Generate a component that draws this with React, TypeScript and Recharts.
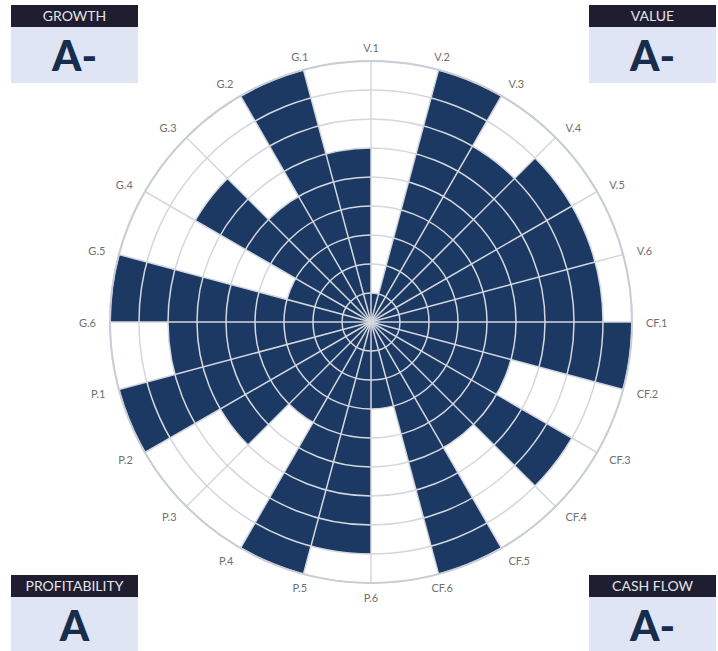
import { PolarAngleAxis, PolarGrid, PolarRadiusAxis, RadialBar, RadialBarChart } from 'recharts';

// clockwise from 12 o'clock, each label marks the start of its band
const categories = [
  'V.1', 'V.2', 'V.3', 'V.4', 'V.5', 'V.6',
  'CF.1', 'CF.2', 'CF.3', 'CF.4', 'CF.5', 'CF.6',
  'P.6', 'P.5', 'P.4', 'P.3', 'P.2', 'P.1',
  'G.6', 'G.5', 'G.4', 'G.3', 'G.2', 'G.1',
];
const scores = [1, 9, 7, 8, 8, 8, 9, 5, 8, 5, 9, 3, 8, 9, 4, 6, 9, 7, 9, 3, 7, 5, 9, 6];
const scoreTicks = [0, 1, 2, 3, 4, 5, 6, 7, 8, 9];

const gradeTitles = ['GROWTH', 'VALUE', 'PROFITABILITY', 'CASH FLOW'];
const gradeLetters = ['A-', 'A-', 'A', 'A-'];

const data = categories.map((name, i) => ({ name, score: scores[i] }));

const CX = 371;
const CY = 322;
const OUTER_R = 261;
const LABEL_R = 275;
const BAND = 360 / categories.length;
const spokeAngles = categories.map((_, i) => 90 - i * BAND);

const BAR_COLOR = '#1c3963';
const GRID_COLOR = '#d3d7de';

// recharts puts each bar one band counter-clockwise of its tick, so the axis is
// rotated by one band and the label goes back to the bar's clockwise start
function AngleTick(props: any) {
  const { payload, index } = props;
  const coord = typeof payload?.coordinate === 'number' ? payload.coordinate : 90 - BAND - index * BAND;
  const angle = coord + BAND;
  const rad = (angle * Math.PI) / 180;
  const x = CX + LABEL_R * Math.cos(rad);
  const y = CY - LABEL_R * Math.sin(rad);
  const c = Math.cos(rad);
  const anchor = Math.abs(c) < 0.4 ? 'middle' : c > 0 ? 'start' : 'end';
  return (
    <text x={x} y={y} textAnchor={anchor} dominantBaseline="central" fill="#707070" fontSize={11} fontFamily="Lato">
      {payload.value}
    </text>
  );
}

function GradeBox({ title, grade, left, top }: { title: string; grade: string; left: number; top: number }) {
  return (
    <div style={{ position: 'absolute', left, top, width: 127, fontFamily: 'Lato' }}>
      <div
        style={{
          background: '#1e1e30',
          color: '#e4e4ea',
          height: 22,
          lineHeight: '22px',
          textAlign: 'center',
          fontSize: 14,
        }}
      >
        {title}
      </div>
      <div
        style={{
          background: '#dfe5f5',
          color: '#182c4c',
          height: 56,
          lineHeight: '56px',
          textAlign: 'center',
          fontSize: 42,
          fontWeight: 900,
        }}
      >
        {grade}
      </div>
    </div>
  );
}

export default function App() {
  return (
    <div style={{ position: 'absolute', left: 0, top: 0, width: 718, height: 651, background: '#fff', overflow: 'hidden' }}>
      <RadialBarChart
        width={718}
        height={651}
        data={data}
        cx={CX}
        cy={CY}
        innerRadius={0}
        outerRadius={OUTER_R}
        startAngle={90 - BAND}
        endAngle={-270 - BAND}
        layout="centric"
        barCategoryGap={0}
        barGap={0}
        margin={{ top: 0, right: 0, bottom: 0, left: 0 }}
      >
        <PolarAngleAxis type="category" dataKey="name" axisLine={false} tickLine={false} tick={AngleTick} />
        <PolarRadiusAxis type="number" domain={[0, 9]} ticks={scoreTicks} axisLine={false} tick={false} />
        <RadialBar dataKey="score" fill={BAR_COLOR} isAnimationActive={false} />
        <PolarGrid gridType="circle" polarAngles={spokeAngles} stroke={GRID_COLOR} strokeWidth={1.5} zIndex={1000} />
        <PolarGrid gridType="circle" polarAngles={[]} polarRadius={[OUTER_R]} stroke="#c9cdd5" strokeWidth={2} zIndex={1001} />
      </RadialBarChart>
      {gradeTitles.map((title, i) => (
        <GradeBox
          key={title}
          title={title}
          grade={gradeLetters[i]}
          left={i % 2 === 0 ? 11 : 589}
          top={i < 2 ? 5 : 575}
        />
      ))}
    </div>
  );
}
